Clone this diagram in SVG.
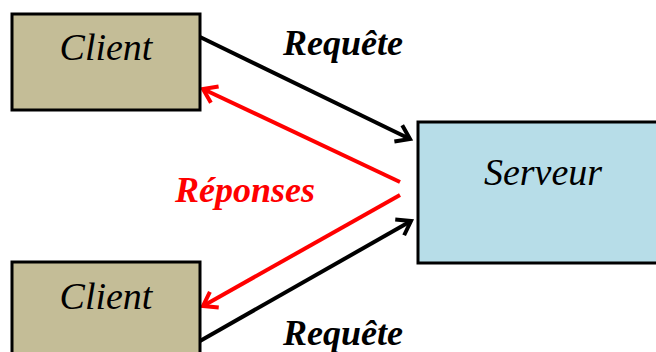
<svg xmlns="http://www.w3.org/2000/svg" width="656" height="352" viewBox="0 0 656 352">
  <style>
    .box { stroke: #000; stroke-width: 3; }
    .client { fill: #c4bd97; }
    .server { fill: #b7dde8; }
    .label { font-family: "Liberation Serif", "Times New Roman", serif; font-style: italic; font-size: 38px; fill: #000; }
    .edge-label { font-family: "Liberation Serif", "Times New Roman", serif; font-style: italic; font-weight: bold; font-size: 36px; }
    .req { stroke: #000; stroke-width: 4; fill: none; }
    .resp { stroke: #ff0000; stroke-width: 4; fill: none; }
  </style>
  <defs>
    <marker id="open-black" viewBox="0 0 12 12" refX="10" refY="6" markerWidth="12" markerHeight="12" markerUnits="userSpaceOnUse" orient="auto" overflow="visible">
      <path d="M -3 -3 L 10 6 L -3 15" fill="none" stroke="#000" stroke-width="4" stroke-linejoin="miter"/>
    </marker>
    <marker id="open-red" viewBox="0 0 12 12" refX="10" refY="6" markerWidth="12" markerHeight="12" markerUnits="userSpaceOnUse" orient="auto" overflow="visible">
      <path d="M -3 -3 L 10 6 L -3 15" fill="none" stroke="#ff0000" stroke-width="4" stroke-linejoin="miter"/>
    </marker>
  </defs>

  <g id="connectors">
    <line class="req" x1="200" y1="37" x2="410" y2="139" marker-end="url(#open-black)"/>
    <line class="resp" x1="400" y1="182" x2="203" y2="89" marker-end="url(#open-red)"/>
    <line class="resp" x1="400" y1="195" x2="203" y2="306" marker-end="url(#open-red)"/>
    <line class="req" x1="200" y1="341" x2="411" y2="221" marker-end="url(#open-black)"/>
  </g>

  <g id="client-top">
    <rect class="box client" x="12" y="14" width="188" height="96"/>
    <text class="label" x="106" y="60" text-anchor="middle">Client</text>
  </g>

  <g id="client-bottom">
    <rect class="box client" x="12" y="262" width="188" height="100"/>
    <text class="label" x="106" y="309" text-anchor="middle">Client</text>
  </g>

  <g id="server">
    <rect class="box server" x="418" y="122" width="250" height="141"/>
    <text class="label" x="543" y="185" text-anchor="middle">Serveur</text>
  </g>

  <g id="labels">
    <text class="edge-label" x="343" y="55" text-anchor="middle" fill="#000">Requête</text>
    <text class="edge-label" x="245" y="202" text-anchor="middle" fill="#ff0000">Réponses</text>
    <text class="edge-label" x="343" y="345" text-anchor="middle" fill="#000">Requête</text>
  </g>
</svg>
